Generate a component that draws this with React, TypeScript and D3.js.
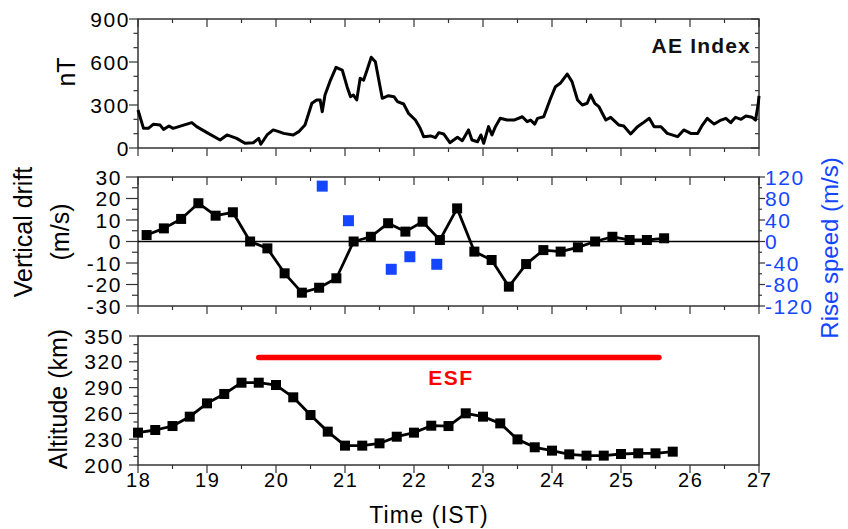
import React from "react";
import * as d3 from "d3";

const aeHours = [18.0,18.08,18.15,18.22,18.32,18.37,18.45,18.51,18.66,18.78,18.85,19.0,19.19,19.29,19.43,19.55,19.67,19.75,19.78,19.87,19.96,20.04,20.11,20.25,20.33,20.42,20.52,20.59,20.64,20.67,20.71,20.79,20.87,20.96,21.03,21.08,21.12,21.17,21.22,21.27,21.32,21.38,21.44,21.54,21.63,21.71,21.76,21.85,21.92,22.02,22.09,22.14,22.24,22.31,22.36,22.43,22.52,22.63,22.7,22.79,22.84,22.92,22.97,23.01,23.08,23.13,23.18,23.25,23.35,23.45,23.57,23.64,23.69,23.75,23.79,23.88,23.98,24.05,24.12,24.22,24.29,24.37,24.44,24.51,24.56,24.62,24.68,24.78,24.85,24.97,25.04,25.14,25.24,25.31,25.41,25.48,25.58,25.67,25.82,25.91,26.01,26.11,26.18,26.25,26.35,26.45,26.52,26.59,26.66,26.74,26.81,26.9,26.95,26.99,27.0];
const aeValues = [265,137,137,165,160,130,153,137,160,177,149,107,56,91,67,33,37,67,26,91,126,114,102,91,114,160,312,335,335,253,370,474,563,544,428,358,370,335,486,474,544,633,602,347,365,358,323,307,242,195,137,79,84,72,107,98,37,75,51,126,56,44,91,33,149,91,149,207,195,195,218,184,195,167,207,218,347,428,451,516,463,335,300,312,370,312,288,195,214,160,153,98,149,172,207,149,149,102,79,126,102,102,160,207,167,195,207,177,214,200,223,214,195,312,363];

const driftHours = [18.125,18.375,18.625,18.875,19.125,19.375,19.625,19.875,20.125,20.375,20.625,20.875,21.125,21.375,21.625,21.875,22.125,22.375,22.625,22.875,23.125,23.375,23.625,23.875,24.125,24.375,24.625,24.875,25.125,25.375,25.625];
const driftValues = [3.0,6.1,10.5,17.8,12.0,13.6,0,-3.2,-14.8,-23.8,-21.5,-17.1,0,2.2,8.5,4.6,9.2,0.7,15.4,-4.7,-8.6,-21.0,-10.5,-4.0,-4.7,-2.7,0,2.2,0.7,0.7,1.5];

const riseHours = [20.67,21.05,21.67,21.94,22.33];
const riseValues = [103,38.7,-51.7,-28.3,-42.4];

const altHours = [18.0,18.25,18.5,18.75,19.0,19.25,19.5,19.75,20.0,20.25,20.5,20.75,21.0,21.25,21.5,21.75,22.0,22.25,22.5,22.75,23.0,23.25,23.5,23.75,24.0,24.25,24.5,24.75,25.0,25.25,25.5,25.75];
const altValues = [237.6,240.7,245.3,256.2,271.7,282.6,295.7,295.7,293,278.7,258.1,238.8,222.5,222.5,225.2,232.9,237.6,245.7,245.3,260.1,256.2,248.4,229.8,220.6,216.7,212.4,210.9,210.9,212.8,213.6,213.6,215.5];

const esfStart = 19.75;
const esfEnd = 25.55;
const esfAltitude = 325;

const xTickLabels = [18,19,20,21,22,23,24,25,26,27];
const aeTickLabels = [0,300,600,900];
const driftTickLabels = [-30,-20,-10,0,10,20,30];
const riseTickLabels = [-120,-80,-40,0,40,80,120];
const altTickLabels = [200,230,260,290,320,350];

const FONT = "'Liberation Sans', Arial, Helvetica, sans-serif";
const BLUE = "#1446ff";
const AXIS = "#333";

export default function App() {
  const W = 848, H = 529;
  const L = 138, R = 759;
  const x = d3.scaleLinear().domain([18, 27]).range([L, R]);
  const yAE = d3.scaleLinear().domain([0, 900]).range([148, 19]);
  const yDr = d3.scaleLinear().domain([-30, 30]).range([306, 177]);
  const yRs = d3.scaleLinear().domain([-120, 120]).range([306, 177]);
  const yAl = d3.scaleLinear().domain([200, 350]).range([465, 336]);

  const xMinor = d3.range(18.5, 27, 1);

  const aeLine = d3.line<number>().x((_, i) => x(aeHours[i])).y((d) => yAE(d)).curve(d3.curveLinear);
  const drLine = d3.line<number>().x((_, i) => x(driftHours[i])).y((d) => yDr(d));
  const alLine = d3.line<number>().x((_, i) => x(altHours[i])).y((d) => yAl(d));

  const xTicks = (y0: number, dir: number, key: string) => (
    <g key={key}>
      {xTickLabels.map((t) => (
        <line key={"M" + t} x1={x(t)} x2={x(t)} y1={y0} y2={y0 + dir * 8} stroke={AXIS} strokeWidth={1.2} />
      ))}
      {xMinor.map((t) => (
        <line key={"m" + t} x1={x(t)} x2={x(t)} y1={y0} y2={y0 + dir * 4} stroke={AXIS} strokeWidth={1.2} />
      ))}
    </g>
  );

  const yTicks = (scale: d3.ScaleLinear<number, number>, lo: number, hi: number, minorStep: number, majors: number[], x0: number, dir: number, majLen: number, key: string, color = AXIS) => {
    const all = d3.range(lo, hi + minorStep / 2, minorStep);
    return (
      <g key={key}>
        {all.map((v) => {
          const isMajor = majors.some((m) => Math.abs(m - v) < 1e-6);
          const len = isMajor ? majLen : majLen / 2;
          return <line key={v} x1={x0} x2={x0 + dir * len} y1={scale(v)} y2={scale(v)} stroke={color} strokeWidth={1.2} />;
        })}
      </g>
    );
  };

  const sq = 10;
  const tickFont = { fontSize: 21, letterSpacing: 1.6 } as const;

  return (
    <svg width={W} height={H} viewBox={`0 0 ${W} ${H}`} style={{ position: "absolute", left: 0, top: 0, background: "#fff" }} fontFamily={FONT}>
      <rect x={0} y={0} width={W} height={H} fill="#fff" />

      {/* ===== Top panel: AE index ===== */}
      <rect x={L} y={19} width={R - L} height={148 - 19} fill="none" stroke={AXIS} strokeWidth={1.5} />
      {xTicks(19, 1, "aeTop")}
      {xTicks(148, 1, "aeBot")}
      {yTicks(yAE, 0, 900, 100, aeTickLabels, L, -1, 9, "aeL")}
      {yTicks(yAE, 0, 900, 100, aeTickLabels, R, -1, 8, "aeR")}
      {aeTickLabels.map((t) => (
        <text key={t} x={130} y={yAE(t)} dy="0.36em" textAnchor="end" {...tickFont} fill="#000">{t}</text>
      ))}
      <path d={aeLine(aeValues) || ""} fill="none" stroke="#000" strokeWidth={3} strokeLinejoin="round" />
      <text x={751} y={53} textAnchor="end" fontSize={21} fontWeight="bold" letterSpacing={1.2} fill="#111">AE Index</text>
      <text transform={`translate(66,72) rotate(-90)`} textAnchor="middle" dy="0.36em" fontSize={25} fill="#000">nT</text>

      {/* ===== Middle panel: drift ===== */}
      <rect x={L} y={177} width={R - L} height={306 - 177} fill="none" stroke={AXIS} strokeWidth={1.5} />
      {xTicks(177, 1, "drTop")}
      {xTicks(306, 1, "drBot")}
      {yTicks(yDr, -30, 30, 5, driftTickLabels, L, -1, 12, "drL")}
      {yTicks(yRs, -120, 120, 20, riseTickLabels, R, 1, 6, "rsR")}
      <line x1={L} x2={R} y1={yDr(0)} y2={yDr(0)} stroke="#000" strokeWidth={1.5} />
      {driftTickLabels.map((t) => (
        <text key={t} x={122} y={yDr(t)} dy="0.36em" textAnchor="end" {...tickFont} fill="#000">{t}</text>
      ))}
      {riseTickLabels.map((t) => (
        <text key={t} x={765} y={yRs(t)} dy="0.36em" textAnchor="start" {...tickFont} fill={BLUE}>{t}</text>
      ))}
      <path d={drLine(driftValues) || ""} fill="none" stroke="#000" strokeWidth={2.8} strokeLinejoin="round" />
      {driftValues.map((v, i) => (
        <rect key={i} x={x(driftHours[i]) - sq / 2} y={yDr(v) - sq / 2} width={sq} height={sq} fill="#000" />
      ))}
      {riseValues.map((v, i) => (
        <rect key={i} x={x(riseHours[i]) - 5.5} y={yRs(v) - 5.5} width={11} height={11} fill={BLUE} />
      ))}
      <text transform={`translate(42,232) rotate(-90)`} textAnchor="middle" fontSize={25} fill="#000">
        <tspan x={0} dy={-10}>Vertical drift</tspan>
        <tspan x={0} dy={37}>(m/s)</tspan>
      </text>
      <text transform={`translate(829,248) rotate(-90)`} textAnchor="middle" dy="0.36em" fontSize={24} fill={BLUE}>Rise speed  (m/s)</text>

      {/* ===== Bottom panel: altitude ===== */}
      <rect x={L} y={336} width={R - L} height={465 - 336} fill="none" stroke={AXIS} strokeWidth={1.5} />
      {xTicks(465, 1, "alBot")}
      {yTicks(yAl, 200, 350, 10, altTickLabels, L, -1, 9, "alL")}
      {altTickLabels.map((t) => (
        <text key={t} x={124} y={yAl(t)} dy="0.36em" textAnchor="end" {...tickFont} fill="#000">{t}</text>
      ))}
      <line x1={x(esfStart)} x2={x(esfEnd)} y1={yAl(esfAltitude)} y2={yAl(esfAltitude)} stroke="#ff0000" strokeWidth={5.5} strokeLinecap="round" />
      <text x={451} y={385} textAnchor="middle" fontSize={21} fontWeight="bold" letterSpacing={1.5} fill="#ff0000">ESF</text>
      <path d={alLine(altValues) || ""} fill="none" stroke="#000" strokeWidth={2.8} strokeLinejoin="round" />
      {altValues.map((v, i) => (
        <rect key={i} x={x(altHours[i]) - sq / 2} y={yAl(v) - sq / 2} width={sq} height={sq} fill="#000" />
      ))}
      <text transform={`translate(58,399) rotate(-90)`} textAnchor="middle" dy="0.36em" fontSize={25} fill="#000">Altitude (km)</text>

      {xTickLabels.map((t) => (
        <text key={t} x={x(t) + 0.8} y={487} textAnchor="middle" fontSize={20} letterSpacing={1.6} fill="#000">{t}</text>
      ))}
      <text x={429} y={523} textAnchor="middle" fontSize={23} letterSpacing={1.2} fill="#000">Time (IST)</text>
    </svg>
  );
}
